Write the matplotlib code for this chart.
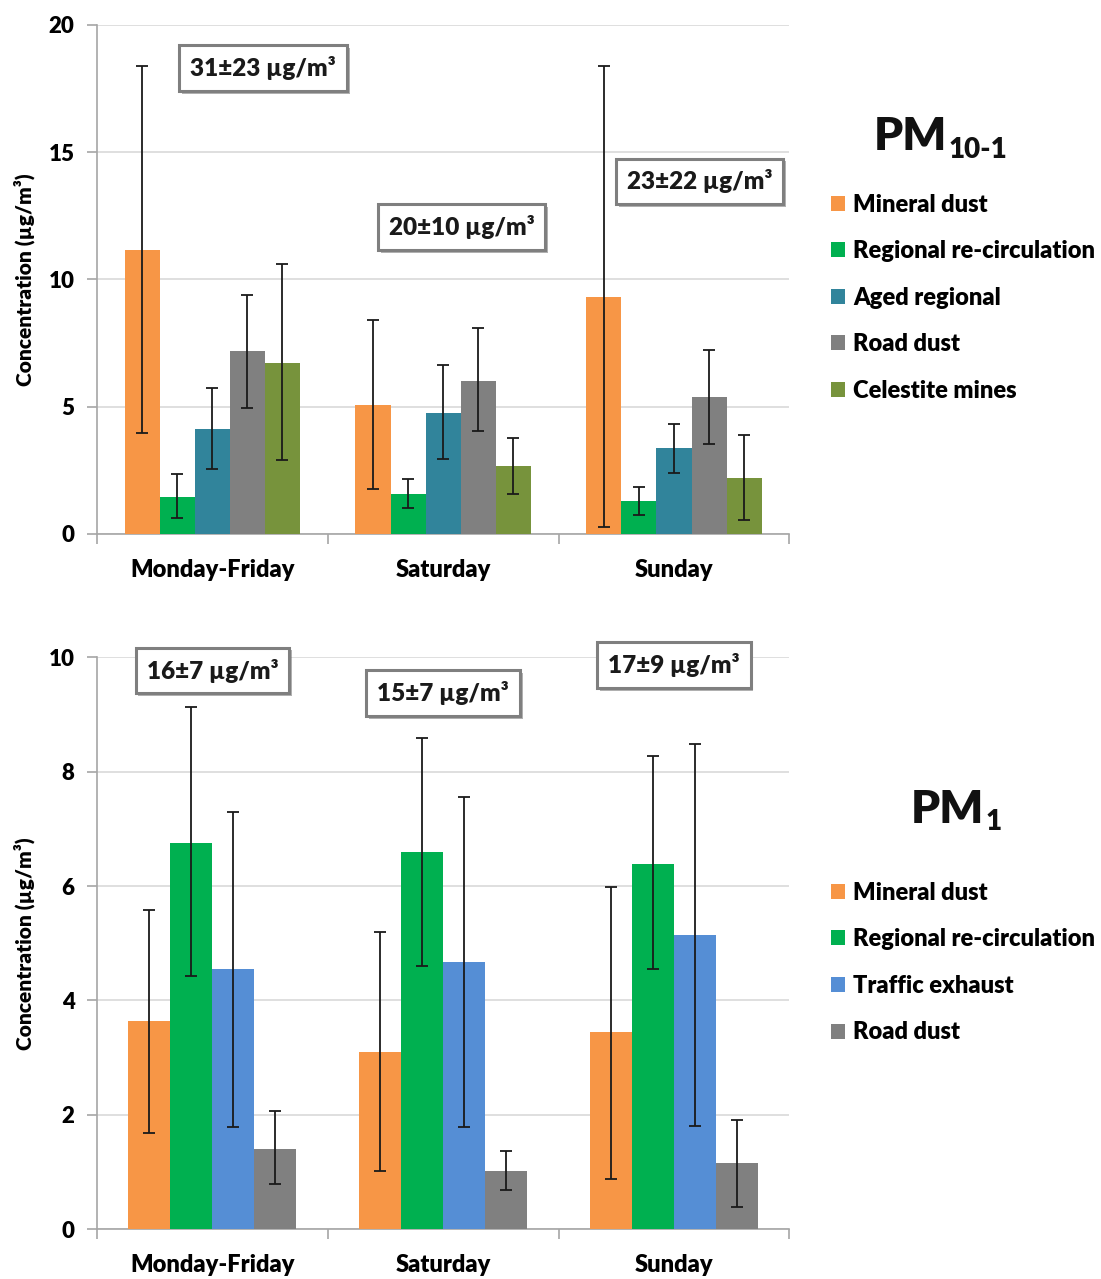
import numpy as np
import matplotlib
matplotlib.use("Agg")
import matplotlib.pyplot as plt
import matplotlib.patheffects as pe
from matplotlib.patches import Patch

# ── data ───────────────────────────────────────────────────────────────────
categories = ["Monday-Friday", "Saturday", "Sunday"]

pm10_sources = ["Mineral dust", "Regional re-circulation", "Aged regional",
                "Road dust", "Celestite mines"]
pm10_values = [[11.15, 5.08, 9.31],
               [1.44, 1.59, 1.30],
               [4.12, 4.77, 3.37],
               [7.17, 6.03, 5.37],
               [6.72, 2.68, 2.18]]
pm10_err_lo = [[3.95, 1.76, 0.27],
               [0.62, 1.03, 0.74],
               [2.56, 2.94, 2.39],
               [4.94, 4.04, 3.55],
               [2.90, 1.59, 0.53]]
pm10_err_hi = [[18.37, 8.40, 18.37],
               [2.36, 2.16, 1.86],
               [5.75, 6.63, 4.31],
               [9.38, 8.09, 7.23],
               [10.60, 3.78, 3.89]]
pm10_totals = ["31±23 µg/m³", "20±10 µg/m³", "23±22 µg/m³"]

pm1_sources = ["Mineral dust", "Regional re-circulation", "Traffic exhaust",
               "Road dust"]
pm1_values = [[3.64, 3.10, 3.44],
              [6.75, 6.59, 6.39],
              [4.55, 4.67, 5.14],
              [1.41, 1.02, 1.15]]
pm1_err_lo = [[1.68, 1.01, 0.87],
              [4.43, 4.61, 4.55],
              [1.79, 1.78, 1.80],
              [0.79, 0.68, 0.38]]
pm1_err_hi = [[5.59, 5.20, 5.98],
              [9.14, 8.59, 8.27],
              [7.29, 7.55, 8.48],
              [2.06, 1.36, 1.90]]
pm1_totals = ["16±7 µg/m³", "15±7 µg/m³", "17±9 µg/m³"]

COLORS = {
    "Mineral dust": "#F79646",
    "Regional re-circulation": "#00B050",
    "Aged regional": "#31849B",
    "Road dust": "#808080",
    "Celestite mines": "#77933C",
    "Traffic exhaust": "#558ED5",
}

W = "heavy"   # Calibri bold is heavier than Lato bold
plt.rcParams.update({
    "font.family": ["Lato", "DejaVu Sans"],
    "font.weight": W,
    "axes.labelweight": W,
})

fig = plt.figure(figsize=(11.01, 12.79), dpi=100)
ax_top = fig.add_axes([0.088, 0.5825, 0.629, 0.398])
ax_bot = fig.add_axes([0.088, 0.039, 0.629, 0.447])


def draw_panel(ax, sources, values, lo, hi, bar_w, ymax, ystep):
    x = np.arange(len(categories))
    n = len(sources)
    for k, src in enumerate(sources):
        v = np.array(values[k])
        err = np.vstack([v - np.array(lo[k]), np.array(hi[k]) - v])
        xpos = x + (k - (n - 1) / 2) * bar_w
        ax.bar(xpos, v, width=bar_w, color=COLORS[src], zorder=3, linewidth=0)
        ax.errorbar(xpos, v, yerr=err, fmt="none", ecolor="#1a1a1a",
                    elinewidth=1.3, capsize=4.5, capthick=1.3, zorder=4)

    ax.set_xlim(-0.5, len(categories) - 0.5)
    ax.set_ylim(0, ymax)
    ax.set_yticks(np.arange(0, ymax + 0.01, ystep))
    ax.yaxis.grid(True, color="#D9D9D9", linewidth=1.2, zorder=0)
    ax.set_axisbelow(True)
    for s in ("top", "right"):
        ax.spines[s].set_visible(False)
    for s in ("left", "bottom"):
        ax.spines[s].set_color("#A6A6A6")
        ax.spines[s].set_linewidth(1.2)

    # group separators as major ticks, category names as minor ticks
    ax.set_xticks(np.arange(-0.5, len(categories), 1.0))
    ax.set_xticklabels([])
    ax.set_xticks(x, minor=True)
    ax.set_xticklabels(categories, minor=True, fontsize=17, fontweight=W)
    ax.tick_params(axis="x", which="major", length=7, color="#A6A6A6", width=1.2)
    ax.tick_params(axis="x", which="minor", length=0, pad=18)
    ax.tick_params(axis="y", length=7, color="#A6A6A6", width=1.2,
                   labelsize=16, pad=9)
    for lab in ax.get_yticklabels():
        lab.set_fontweight(W)
    ax.set_ylabel("Concentration (µg/m³)", fontsize=15, fontweight=W,
                  labelpad=10)


def total_box(ax, x, y, txt):
    t = ax.text(x, y, txt, ha="center", va="center", fontsize=17.5,
                fontweight=W, color="#1a1a1a", zorder=6,
                bbox=dict(boxstyle="square,pad=0.45", facecolor="white",
                          edgecolor="#7F7F7F", linewidth=2.2))
    t.get_bbox_patch().set_path_effects([
        pe.SimplePatchShadow(offset=(2, -2), shadow_rgbFace="#555555", alpha=0.45),
        pe.Normal(),
    ])


draw_panel(ax_top, pm10_sources, pm10_values, pm10_err_lo, pm10_err_hi,
           0.152, 20, 5)
draw_panel(ax_bot, pm1_sources, pm1_values, pm1_err_lo, pm1_err_hi,
           0.182, 10, 2)

for (bx, by), txt in zip([(0.22, 18.3), (1.08, 12.05), (2.11, 13.85)], pm10_totals):
    total_box(ax_top, bx, by, txt)
for (bx, by), txt in zip([(0.0, 9.77), (1.0, 9.37), (2.0, 9.86)], pm1_totals):
    total_box(ax_bot, bx, by, txt)

# panel titles
fig.text(0.860, 0.893, "PM", fontsize=33, fontweight=W, ha="right",
         va="center", color="#111111")
fig.text(0.8615, 0.883, "10-1", fontsize=20, fontweight=W, ha="left",
         va="center", color="#111111")
fig.text(0.894, 0.367, "PM", fontsize=33, fontweight=W, ha="right",
         va="center", color="#111111")
fig.text(0.8955, 0.357, "1", fontsize=20, fontweight=W, ha="left",
         va="center", color="#111111")

# legends
def make_legend(sources, y_top):
    handles = [Patch(facecolor=COLORS[s], edgecolor="none", label=s) for s in sources]
    fig.legend(handles=handles, loc="upper left", bbox_to_anchor=(0.746, y_top),
               frameon=False, handlelength=0.6, handleheight=0.6,
               handletextpad=0.35, labelspacing=1.04, borderaxespad=0,
               prop={"weight": W, "size": 17})


make_legend(pm10_sources, 0.856)
make_legend(pm1_sources, 0.318)

fig.savefig("out.png", dpi=100)
